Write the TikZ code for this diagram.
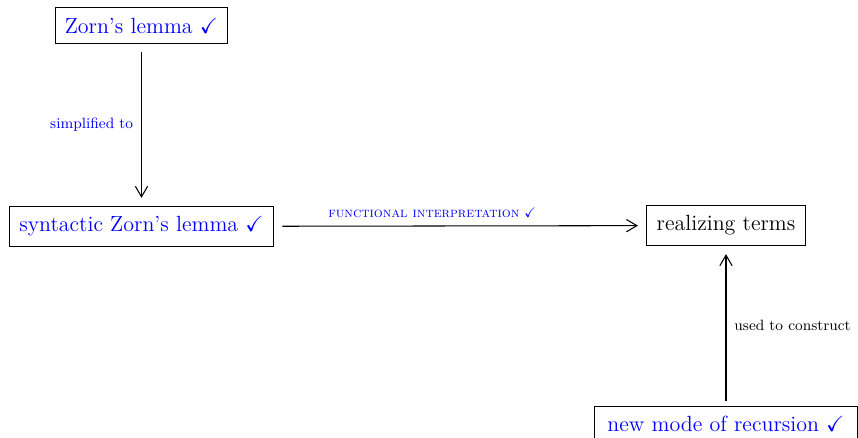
\documentclass[tikz,border=0pt]{standalone}
\usepackage{amssymb}
\usetikzlibrary{arrows.meta}
\tikzset{box/.style={draw, black, line width=0.6pt, inner xsep=5.5pt, inner ysep=5.6pt, font=\fontsize{12.5}{15}\selectfont},
         lab/.style={font=\fontsize{8.5}{10}\selectfont, inner sep=4.5pt},
         arr/.style={line width=0.6pt, -{Straight Barb[length=6pt,width=7pt]}, shorten >=4.8pt, shorten <=4.8pt}}

\begin{document}
\begin{tikzpicture}
   \path[use as bounding box] (0,0) rectangle (17.16,-8.76);
   \clip (0,0) rectangle (17.16,-8.76);
   % the four statements
   \node[box, text=blue] (zorn) at ( 2.83,-0.51) {Zorn's lemma $\checkmark$};
   \node[box, text=blue] (synt) at ( 2.83,-4.53) {syntactic Zorn's lemma $\checkmark$};
   \node[box]            (real) at (14.52,-4.51) {realizing terms};
   \node[box, text=blue, inner xsep=7.5pt] (newm) at (14.52,-8.48) {new mode of recursion $\checkmark$};
   % how they hang together
   \draw[arr] (zorn) -- node[lab, left, blue] {simplified to} (synt);
   \draw[arr] (synt) -- node[lab, above, blue, pos=0.425, font=\fontsize{8}{10}\selectfont] {\textsc{functional interpretation} $\checkmark$} (real);
   \draw[arr, shorten <=2.6pt] (newm) -- node[lab, right] {used to construct} (real);
\end{tikzpicture}
\end{document}
